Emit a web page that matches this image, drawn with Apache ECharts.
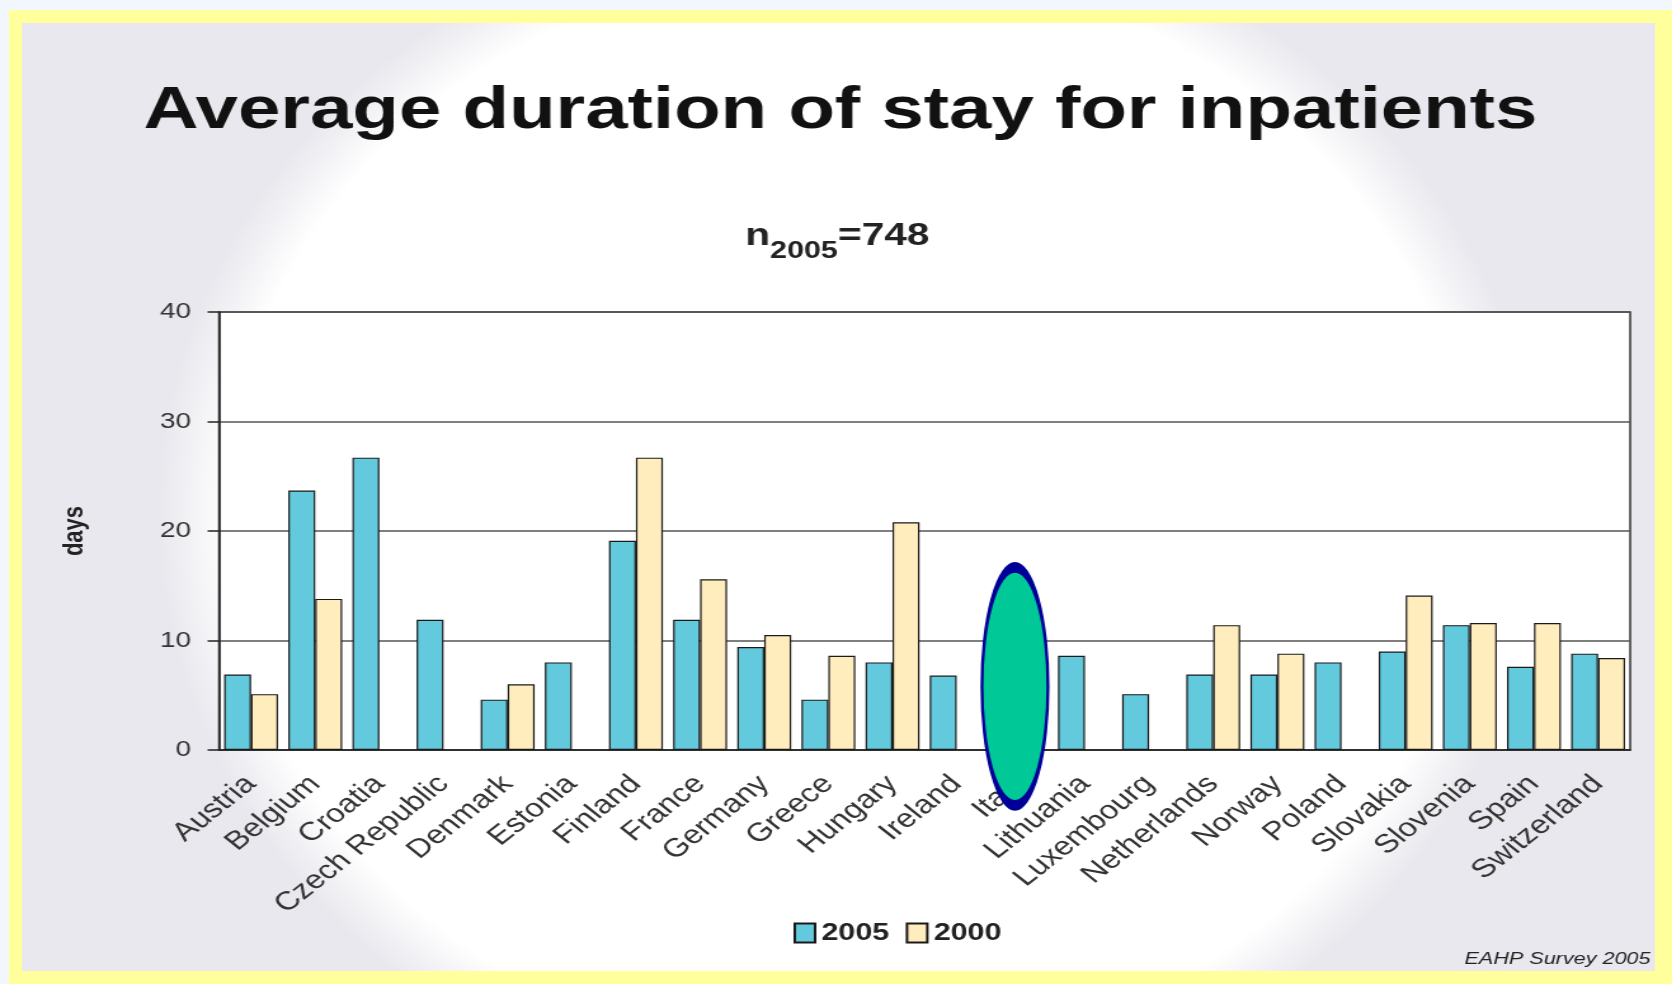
<!DOCTYPE html>
<html>
<head>
<meta charset="utf-8">
<script src="https://cdn.jsdelivr.net/npm/echarts/dist/echarts.min.js"></script>
<style>
html, body { margin: 0; padding: 0; }
body { width: 1672px; height: 984px; background: #f2f7fd; position: relative; overflow: hidden; }
#frame {
    position: absolute; left: 9px; top: 10px; width: 1663px; height: 974px;
    border-style: solid; border-color: #ffff9c; border-width: 13px 17px 13px 13px;
    box-sizing: border-box;
    background: radial-gradient(ellipse 690px 610px at 827px 490px, #ffffff 90%, #e8e8ee 100%);
}
/* the slide is stretched sideways, so draw narrow and stretch */
#main {
    position: absolute; left: 0; top: 0; width: 1317px; height: 984px;
    transform: scaleX(1.2696); transform-origin: 0 0;
}
</style>
</head>
<body>
<div id="frame"></div>
<div id="main"></div>
<script>
var categories = ['Austria', 'Belgium', 'Croatia', 'Czech Republic', 'Denmark', 'Estonia', 'Finland',
    'France', 'Germany', 'Greece', 'Hungary', 'Ireland', 'Italy', 'Lithuania', 'Luxembourg',
    'Netherlands', 'Norway', 'Poland', 'Slovakia', 'Slovenia', 'Spain', 'Switzerland'];
var days2005 = [6.9, 23.7, 26.7, 11.9, 4.6, 8.0, 19.1, 11.9, 9.4, 4.6, 8.0, 6.8, null,
    8.6, 5.1, 6.9, 6.9, 8.0, 9.0, 11.4, 7.6, 8.8];
var days2000 = [5.1, 13.8, null, null, 6.0, null, 26.7, 15.6, 10.5, 8.6, 20.8, null, null,
    null, null, 11.4, 8.8, null, 14.1, 11.6, 11.6, 8.4];
var yMin = 0, yMax = 40, yStep = 10;
// green oval drawn over Italy in the slide
var italyMark = ['Italy', 5.9];

var font = '"Liberation Sans", Arial, sans-serif';
var myChart = echarts.init(document.getElementById('main'));
myChart.setOption({
    animation: false,
    title: [{
        text: 'Average duration of stay for inpatients',
        left: 108,
        top: 76,
        textStyle: { fontFamily: font, fontSize: 60, fontWeight: 'bold', color: '#111' }
    }, {
        text: '{n|n}{s|2005}{n|=748}',
        left: 582,
        top: 204,
        textStyle: {
            rich: {
                n: { fontFamily: font, fontSize: 32, fontWeight: 'bold', color: '#222' },
                s: { fontFamily: font, fontSize: 24, fontWeight: 'bold', color: '#222', padding: [30, 0, 0, 0] }
            }
        }
    }],
    legend: {
        data: ['2005', '2000'],
        left: 620,
        top: 916,
        icon: 'rect',
        itemWidth: 16,
        itemHeight: 19,
        itemGap: 13,
        textStyle: { fontFamily: font, fontSize: 24, fontWeight: 'bold', color: '#222' }
    },
    grid: {
        left: 172.5,
        right: 33,
        top: 312,
        bottom: 234,
        show: true,
        backgroundColor: '#fff',
        borderColor: '#333',
        borderWidth: 1.5
    },
    xAxis: {
        type: 'category',
        data: categories,
        axisLine: { lineStyle: { color: '#222', width: 1.5 } },
        axisTick: { length: 7, lineStyle: { color: '#222', width: 1.5 } },
        axisLabel: {
            interval: 0,
            rotate: 45,
            margin: 30,
            fontFamily: font,
            fontSize: 26,
            color: '#333'
        }
    },
    yAxis: {
        type: 'value',
        min: yMin,
        max: yMax,
        interval: yStep,
        name: 'days',
        nameLocation: 'middle',
        nameRotate: 90,
        nameGap: 103,
        nameTextStyle: { fontFamily: font, fontSize: 22, fontWeight: 'bold', color: '#222' },
        axisLine: { show: true, lineStyle: { color: '#222', width: 1.5 } },
        axisTick: { show: true, length: 9, lineStyle: { color: '#222', width: 1.5 } },
        axisLabel: { margin: 22, fontFamily: font, fontSize: 22, color: '#333' },
        splitLine: { lineStyle: { color: '#555', width: 1.5 } }
    },
    series: [{
        name: '2005',
        type: 'bar',
        data: days2005,
        barGap: '0%',
        barCategoryGap: '16%',
        itemStyle: { color: '#63c9dd', borderColor: '#1a1a1a', borderWidth: 1.2 },
        markPoint: {
            symbol: 'circle',
            symbolSize: [52, 238],
            symbolOffset: [6, 1],
            label: { show: false },
            itemStyle: { color: '#00c896', borderColor: '#000099', borderWidth: 5 },
            data: [{ coord: italyMark }]
        }
    }, {
        name: '2000',
        type: 'bar',
        data: days2000,
        itemStyle: { color: '#ffedbd', borderColor: '#1a1a1a', borderWidth: 1.2 }
    }],
    graphic: [{
        type: 'text',
        right: 17,
        top: 951,
        style: { text: 'EAHP Survey 2005', font: 'italic 17px "Liberation Sans", Arial, sans-serif', fill: '#222' }
    }]
});
</script>
</body>
</html>
